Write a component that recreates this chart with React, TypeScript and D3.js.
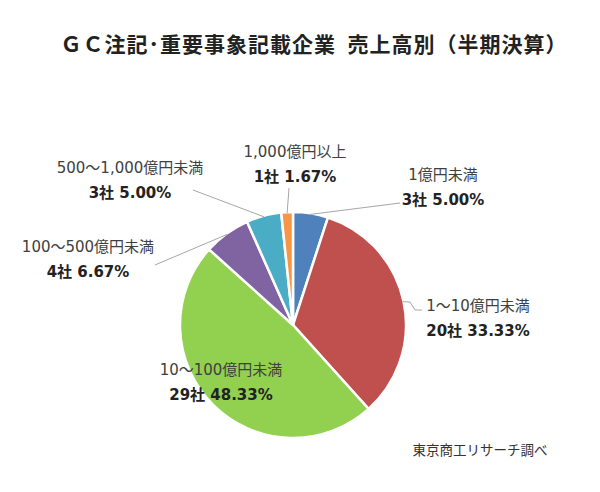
import { useEffect, useRef } from 'react';
import * as d3 from 'd3';

const categories = ['1億円未満', '1～10億円未満', '10～100億円未満', '100～500億円未満', '500～1,000億円未満', '1,000億円以上'];
const counts = [3, 20, 29, 4, 3, 1];
const shares = ['5.00%', '33.33%', '48.33%', '6.67%', '5.00%', '1.67%'];
const colors = ['#4f81bd', '#c0504d', '#92d050', '#8064a2', '#4bacc6', '#f79646'];

// label layout: centre x, first baseline, and the far end of the leader line (null = none)
const labelLayout = [
  { x: 443, y: 180, lead: [[400, 203]] },
  { x: 478, y: 311, lead: [[410, 302], [415, 310], [422, 310]] },
  { x: 221, y: 375, lead: null },
  { x: 88, y: 252, lead: [[155, 265]] },
  { x: 130, y: 173, lead: [[193, 190]] },
  { x: 295, y: 157, lead: [[289, 188]] },
];

const CJK = '"Noto Sans CJK JP", sans-serif';
const LABEL_FONT = '"DejaVu Sans", "Noto Sans CJK JP", sans-serif';

const App = () => {
  const svgRef = useRef<SVGSVGElement>(null);

  useEffect(() => {
    if (!svgRef.current) return;
    const svg = d3.select(svgRef.current);
    svg.selectAll('*').remove();

    const width = 600;
    const height = 492;
    const cx = 293;
    const cy = 325;
    const radius = 113;

    svg.attr('width', width).attr('height', height);
    svg.append('rect').attr('width', width).attr('height', height).attr('fill', '#fff');

    // Title
    svg
      .append('text')
      .attr('x', 314)
      .attr('y', 52)
      .attr('text-anchor', 'middle')
      .attr('font-family', CJK)
      .attr('font-size', '21px')
      .attr('font-weight', 'bold')
      .attr('letter-spacing', '1px')
      .attr('fill', '#222')
      .text('ＧＣ注記･重要事象記載企業\u2002売上高別（半期決算）');

    const pie = d3
      .pie<number>()
      .sort(null)
      .value((d) => d)
      .startAngle(0)
      .endAngle(2 * Math.PI);
    const arcs = pie(counts);
    const arc = d3.arc<d3.PieArcDatum<number>>().innerRadius(0).outerRadius(radius);

    const g = svg.append('g').attr('transform', `translate(${cx},${cy})`);
    g.selectAll('path')
      .data(arcs)
      .join('path')
      .attr('d', arc)
      .attr('fill', (_, i) => colors[i])
      .attr('stroke', '#fff')
      .attr('stroke-width', 2.5);

    // Leader lines
    arcs.forEach((a, i) => {
      const lay = labelLayout[i];
      if (!lay.lead) return;
      const mid = (a.startAngle + a.endAngle) / 2;
      const sx = cx + Math.sin(mid) * (radius - 1);
      const sy = cy - Math.cos(mid) * (radius - 1);
      const pts: [number, number][] = [[sx, sy], ...(lay.lead as [number, number][])];
      svg
        .append('path')
        .attr('d', d3.line()(pts))
        .attr('fill', 'none')
        .attr('stroke', '#a6a6a6')
        .attr('stroke-width', 1);
    });

    // Labels
    categories.forEach((c, i) => {
      const lay = labelLayout[i];
      svg
        .append('text')
        .attr('x', lay.x)
        .attr('y', lay.y)
        .attr('text-anchor', 'middle')
        .attr('font-family', LABEL_FONT)
        .attr('font-size', '15px')
        .attr('fill', '#404040')
        .text(c);
      svg
        .append('text')
        .attr('x', lay.x)
        .attr('y', lay.y + 25)
        .attr('text-anchor', 'middle')
        .attr('font-family', LABEL_FONT)
        .attr('font-size', '15px')
        .attr('font-weight', 'bold')
        .attr('fill', '#222')
        .text(`${counts[i]}社 ${shares[i]}`);
    });

    // Source
    svg
      .append('text')
      .attr('x', 480)
      .attr('y', 455)
      .attr('text-anchor', 'middle')
      .attr('font-family', CJK)
      .attr('font-size', '13.5px')
      .attr('fill', '#333')
      .text('東京商工リサーチ調べ');
  }, []);

  return <svg ref={svgRef} style={{ position: 'absolute', left: 0, top: 0, display: 'block' }} />;
};

export default App;
